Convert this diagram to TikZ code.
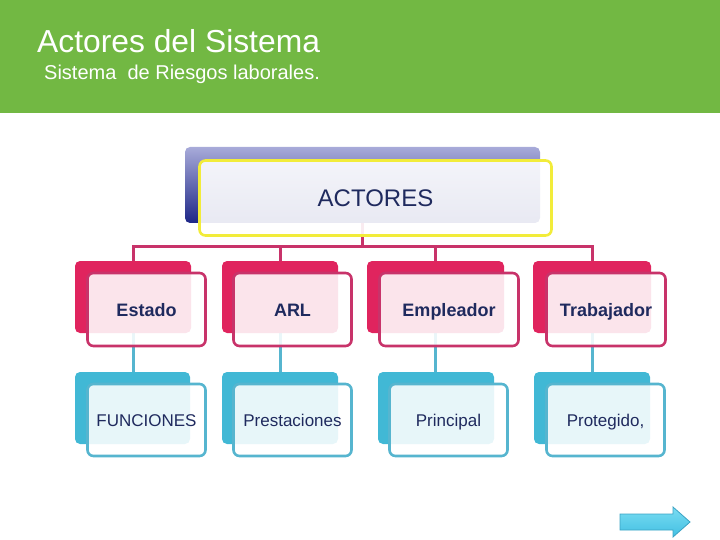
\documentclass[tikz,border=0pt]{standalone}
\usepackage{fontspec}
\setmainfont{Liberation Sans}
\usetikzlibrary{backgrounds}

\definecolor{hdrgreen}{HTML}{72B843}
\definecolor{navy}{HTML}{1F2A5E}
\definecolor{actlav}{HTML}{A8ABD9}
\definecolor{actnavy}{HTML}{1D2687}
\definecolor{actyel}{HTML}{F2EC3A}
\definecolor{pinkbk}{HTML}{E0245E}
\definecolor{pinkln}{HTML}{C8336A}
\definecolor{cyanbk}{HTML}{41B8D5}
\definecolor{cyanln}{HTML}{56B5CF}
\definecolor{arrtop}{HTML}{7ADCF2}
\definecolor{arrbot}{HTML}{42C0E3}
\definecolor{arrln}{HTML}{3BA3C4}

\begin{document}
\begin{tikzpicture}[x=1pt,y=-1pt,
  bk/.style={rounded corners=5pt,minimum height=72pt,inner sep=0},
  fr/.style={rounded corners=6pt,line width=2.6pt,fill=white,fill opacity=.88,
    text opacity=1,text=navy,minimum height=73pt,inner sep=0,text depth=0pt},
  tree/.style={line width=3pt,draw=pinkln},
  sub/.style={line width=3pt,draw=cyanln},
]
  \useasboundingbox (0,0) rectangle (720,540);
  \fill[hdrgreen] (0,0) rectangle (720,113);
  \node[anchor=base west,text=white,font=\fontsize{31.8}{36}\selectfont,inner sep=0] (title) at (37,53) {Actores del Sistema};
  \node[anchor=base west,text=white,font=\fontsize{20}{24}\selectfont,inner sep=0] (subtitle) at (44,80) {Sistema\ \ de Riesgos laborales.};

  \node[bk,top color=actlav,bottom color=actnavy,minimum width=355pt,minimum height=76pt] (act-bk) at (362.5,185) {};
  \node[fr,draw=actyel,fill opacity=.9,minimum width=352pt,minimum height=75pt,text height=17pt,
    font=\fontsize{24}{28}\selectfont] (act) at (375.5,198) {ACTORES};

  \foreach \n/\bx/\bw/\fx/\fw/\t in {est/133/116/146.5/118/Estado,arl/280/116/292.5/118/ARL,
      emp/435.5/137/449/139/Empleador,tra/592/118/606/119/Trabajador}{
    \node[bk,fill=pinkbk,minimum width=\bw pt] (\n-bk) at (\bx,297) {};
    \node[fr,draw=pinkln,minimum width=\fw pt,text height=13pt,font=\fontsize{18}{22}\selectfont\bfseries] (\n) at (\fx,309.5) {\t};
  }
  \foreach \n/\bx/\bw/\fx/\t in {fun/132.5/115/146.5/FUNCIONES,pre/280/116/292.5/Prestaciones,
      pri/436/116/448.5/Principal,pro/592/116/605.5/{Protegido,}}{
    \node[bk,fill=cyanbk,minimum width=\bw pt] (\n-bk) at (\bx,408) {};
    \node[fr,draw=cyanln,minimum width=118pt,minimum height=72pt,text height=12.2pt,font=\fontsize{17}{21}\selectfont] (\n) at (\fx,420) {\t};
  }

  \begin{scope}[on background layer]
    \draw[tree] (act-bk.south) -- ++(0,23) coordinate (hub);
    \foreach \n in {est,arl,emp,tra} \draw[tree] (hub) -| (\n-bk.north);
    \foreach \a/\b in {est/fun,arl/pre,emp/pri,tra/pro}
      \draw[sub] (\a-bk.south) -- (\a-bk.south |- \b-bk.north);
  \end{scope}

  \shade[top color=arrtop,bottom color=arrbot,draw=arrln,line width=.8pt]
    (620,514) -- (673,514) -- (673,507) -- (690,522) -- (673,537) -- (673,530) -- (620,530) -- cycle;
\end{tikzpicture}
\end{document}
